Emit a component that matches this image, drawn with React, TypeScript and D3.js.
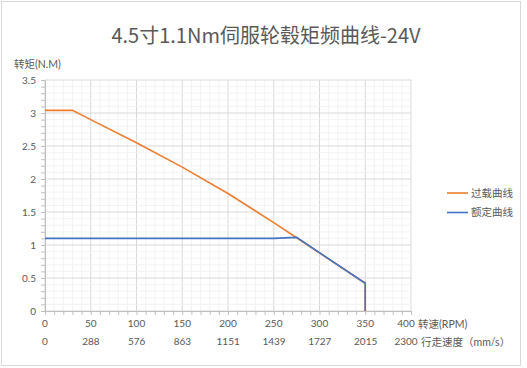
import * as d3 from "d3";
import { useEffect, useRef } from "react";

const rpmTicks = [0, 50, 100, 150, 200, 250, 300, 350, 400];
const speedTicks = [0, 288, 576, 863, 1151, 1439, 1727, 2015, 2300];
const torqueTicks = [0, 0.5, 1, 1.5, 2, 2.5, 3, 3.5];

const overloadRpm = [0, 30, 50, 100, 150, 200, 250, 275, 350, 350];
const overloadTorque = [3.04, 3.04, 2.9, 2.55, 2.18, 1.78, 1.34, 1.11, 0.42, 0];
const ratedRpm = [0, 250, 275, 350, 350];
const ratedTorque = [1.1, 1.1, 1.115, 0.42, 0];

const seriesNames = ["过载曲线", "额定曲线"];
const colors = ["#ED7D31", "#4472C4"];

const W = 527;
const H = 368;
const margin = { top: 80, left: 45, right: 116, bottom: 57 };

export default function App() {
  const ref = useRef<SVGSVGElement>(null);

  useEffect(() => {
    const svg = d3.select(ref.current);
    svg.selectAll("*").remove();

    const x = d3.scaleLinear().domain([0, 400]).range([margin.left, W - margin.right]);
    const x2 = d3.scaleLinear().domain([0, 2300]).range([margin.left, W - margin.right]);
    const y = d3.scaleLinear().domain([0, 3.5]).range([H - margin.bottom, margin.top]);
    const font = "Lato, 'Noto Sans CJK SC', sans-serif";
    const grey = "#595959";

    svg.append("rect").attr("x", 1.5).attr("y", 1.5).attr("width", 519).attr("height", 364)
      .attr("fill", "#fff").attr("stroke", "#d9d9d9");

    // grid, minor every 10 rpm / 0.1 N.M
    const g = svg.append("g");
    d3.range(0, 401, 10).forEach((v) => {
      g.append("line").attr("x1", x(v)).attr("x2", x(v)).attr("y1", y(0)).attr("y2", y(3.5))
        .attr("stroke", v % 50 === 0 ? "#d9d9d9" : "#f0f0f0").attr("stroke-width", v % 50 === 0 ? 1 : 0.8);
    });
    d3.range(0, 36).forEach((i) => {
      const v = i / 10;
      g.append("line").attr("x1", x(0)).attr("x2", x(400)).attr("y1", y(v)).attr("y2", y(v))
        .attr("stroke", i % 5 === 0 ? "#d9d9d9" : "#f0f0f0").attr("stroke-width", i % 5 === 0 ? 1 : 0.8);
    });

    // axes
    const xAxis = svg.append("g").attr("transform", `translate(0,${y(0)})`)
      .call(d3.axisBottom(x).tickValues(d3.range(0, 401, 10)).tickSize(4).tickFormat(() => ""));
    xAxis.select(".domain").attr("stroke", "#bfbfbf");
    xAxis.selectAll("line").attr("stroke", "#bfbfbf");
    const yAxis = svg.append("g").attr("transform", `translate(${x(0)},0)`)
      .call(d3.axisLeft(y).tickValues(d3.range(0, 36).map((i) => i / 10)).tickSize(4).tickFormat(() => ""));
    yAxis.select(".domain").attr("stroke", "#bfbfbf");
    yAxis.selectAll("line").attr("stroke", "#bfbfbf");

    svg.append("g").selectAll("text").data(torqueTicks).join("text")
      .attr("x", x(0) - 9).attr("y", (d) => y(d) + 3.5).attr("text-anchor", "end")
      .attr("font-size", 10).attr("font-family", font).attr("fill", grey).text((d) => d);

    const last = (i: number, n: number) => (i === n - 1 ? -5 : 0);
    svg.append("g").selectAll("text").data(rpmTicks).join("text")
      .attr("x", (d, i) => x(d) + last(i, rpmTicks.length)).attr("y", 327).attr("text-anchor", "middle")
      .attr("font-size", 10).attr("font-family", font).attr("fill", grey).text((d) => d);
    svg.append("g").selectAll("text").data(speedTicks).join("text")
      .attr("x", (d, i) => x2(d) + last(i, speedTicks.length)).attr("y", 345).attr("text-anchor", "middle")
      .attr("font-size", 10).attr("font-family", font).attr("fill", grey).text((d) => d);

    svg.append("text").attr("x", 418).attr("y", 328).attr("font-size", 10.5)
      .attr("font-family", font).attr("fill", grey).text("转速(RPM)");
    svg.append("text").attr("x", 421).attr("y", 346).attr("font-size", 10.5)
      .attr("font-family", font).attr("fill", grey).text("行走速度（mm/s）");
    svg.append("text").attr("x", 14).attr("y", 68).attr("font-size", 10.5)
      .attr("font-family", font).attr("fill", grey).text("转矩(N.M)");

    svg.append("text").attr("x", 266).attr("y", 43).attr("text-anchor", "middle")
      .attr("font-size", 20).attr("font-family", "'Noto Sans CJK SC', sans-serif")
      .attr("fill", grey).text("4.5寸1.1Nm伺服轮毂矩频曲线-24V");

    // lines
    const line = d3.line<[number, number]>().x((d) => x(d[0])).y((d) => y(d[1]));
    const series = [
      overloadRpm.map((r, i) => [r, overloadTorque[i]] as [number, number]),
      ratedRpm.map((r, i) => [r, ratedTorque[i]] as [number, number]),
    ];
    series.forEach((s, i) => {
      svg.append("path").attr("d", line(s)).attr("fill", "none")
        .attr("stroke", colors[i]).attr("stroke-width", 1.6);
    });

    // legend
    seriesNames.forEach((n, i) => {
      const ly = 193 + i * 19.5;
      svg.append("line").attr("x1", 447).attr("x2", 468).attr("y1", ly).attr("y2", ly)
        .attr("stroke", colors[i]).attr("stroke-width", 1.6);
      svg.append("text").attr("x", 471).attr("y", ly + 3.5).attr("font-size", 10.5)
        .attr("font-family", font).attr("fill", grey).text(n);
    });
  }, []);

  return (
    <svg ref={ref} width={W} height={H}
      style={{ position: "absolute", left: 0, top: 0, background: "#fff" }} />
  );
}
